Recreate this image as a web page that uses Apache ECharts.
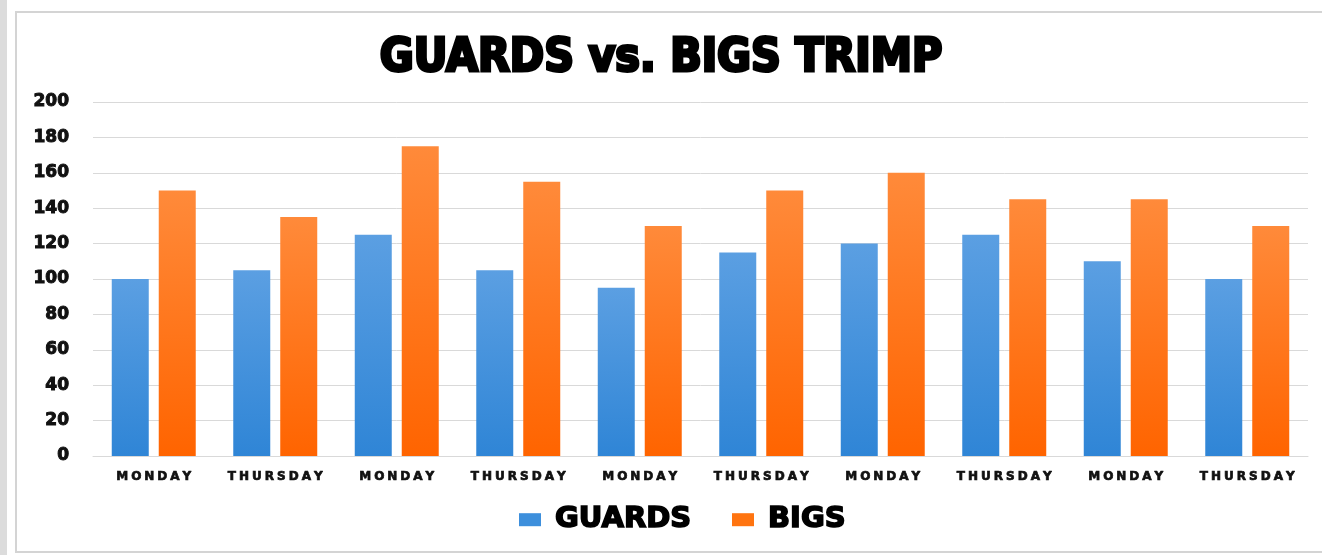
<!DOCTYPE html>
<html>
<head>
<meta charset="utf-8">
<script src="https://cdn.jsdelivr.net/npm/echarts@6/dist/echarts.min.js"></script>
<style>
  html, body { margin: 0; padding: 0; background: #ffffff; }
  #chart { width: 1322px; height: 555px; }
</style>
</head>
<body>
<div id="chart"></div>
<script>
// Practice days and TRIMP load per group
const categories = ['MONDAY', 'THURSDAY', 'MONDAY', 'THURSDAY', 'MONDAY', 'THURSDAY', 'MONDAY', 'THURSDAY', 'MONDAY', 'THURSDAY'];
const guards = [100, 105, 125, 105, 95, 115, 120, 125, 110, 100];
const bigs = [150, 135, 175, 155, 130, 150, 160, 145, 145, 130];
const yTicks = [0, 20, 40, 60, 80, 100, 120, 140, 160, 180, 200];

const chart = echarts.init(document.getElementById('chart'), null, { renderer: 'canvas' });

function vGrad(top, bottom) {
  return new echarts.graphic.LinearGradient(0, 0, 0, 1, [
    { offset: 0, color: top },
    { offset: 1, color: bottom }
  ]);
}

// spaced-out day labels: each letter is its own rich-text token with side padding
function spaced(word) {
  return word.split('').map(function (ch) { return '{c|' + ch + '}'; }).join('');
}

chart.setOption({
  backgroundColor: '#ffffff',
  animation: false,
  graphic: [
    { type: 'rect', shape: { x: 0, y: 0, width: 7, height: 555 }, style: { fill: '#dcdcdc' }, silent: true },
    { type: 'rect', shape: { x: 16, y: 12, width: 1320, height: 540 }, style: { fill: 'none', stroke: '#d4d4d4', lineWidth: 2 }, silent: true }
  ],
  title: {
    text: 'GUARDS vs. BIGS TRIMP',
    left: 'center',
    top: 31,
    textStyle: {
      fontFamily: '"Liberation Sans Narrow", "DejaVu Sans Condensed", sans-serif',
      fontWeight: 'bold',
      fontSize: 46,
      color: '#000',
      textBorderColor: '#000',
      textBorderWidth: 3
    }
  },
  legend: {
    bottom: 15,
    left: 514,
    itemWidth: 22,
    itemHeight: 13,
    itemGap: 40,
    icon: 'rect',
    textStyle: {
      fontFamily: '"DejaVu Sans", sans-serif',
      fontWeight: 'bold',
      fontSize: 29,
      color: '#000',
      textBorderColor: '#000',
      textBorderWidth: 1.6,
      padding: [0, 0, 0, 9]
    },
    data: [
      { name: 'GUARDS', itemStyle: { color: '#3d8fdc' } },
      { name: 'BIGS', itemStyle: { color: '#ff7410' } }
    ]
  },
  grid: { left: 93, right: 14, top: 102, bottom: 99, containLabel: false },
  xAxis: {
    type: 'category',
    data: categories,
    axisLine: { show: true, lineStyle: { color: '#d9d9d9', width: 1 } },
    axisTick: { show: false },
    axisLabel: {
      interval: 0,
      hideOverlap: false,
      margin: 15,
      formatter: function (v) { return spaced(v); },
      rich: {
        c: {
          fontFamily: '"DejaVu Sans", sans-serif',
          fontWeight: 'bold',
          fontSize: 12,
          color: '#111',
          textBorderColor: '#111',
          textBorderWidth: 0.7,
          padding: [0, 1.5]
        }
      }
    }
  },
  yAxis: {
    type: 'value',
    min: 0,
    max: 200,
    interval: 20,
    axisLine: { show: false },
    axisTick: { show: false },
    splitLine: { lineStyle: { color: '#d9d9d9', width: 1 } },
    axisLabel: {
      margin: 24,
      fontFamily: '"DejaVu Sans", sans-serif',
      fontWeight: 'bold',
      fontSize: 17,
      color: '#111',
      textBorderColor: '#111',
      textBorderWidth: 1,
      formatter: function (v) { return yTicks.indexOf(v) >= 0 ? String(v) : ''; }
    }
  },
  series: [
    {
      name: 'GUARDS',
      type: 'bar',
      data: guards,
      barWidth: 37,
      barGap: '27%',
      itemStyle: { color: vGrad('#5b9fe2', '#2f85d6') }
    },
    {
      name: 'BIGS',
      type: 'bar',
      data: bigs,
      barWidth: 37,
      itemStyle: { color: vGrad('#ff8a3a', '#ff6400') }
    }
  ]
});
</script>
</body>
</html>
